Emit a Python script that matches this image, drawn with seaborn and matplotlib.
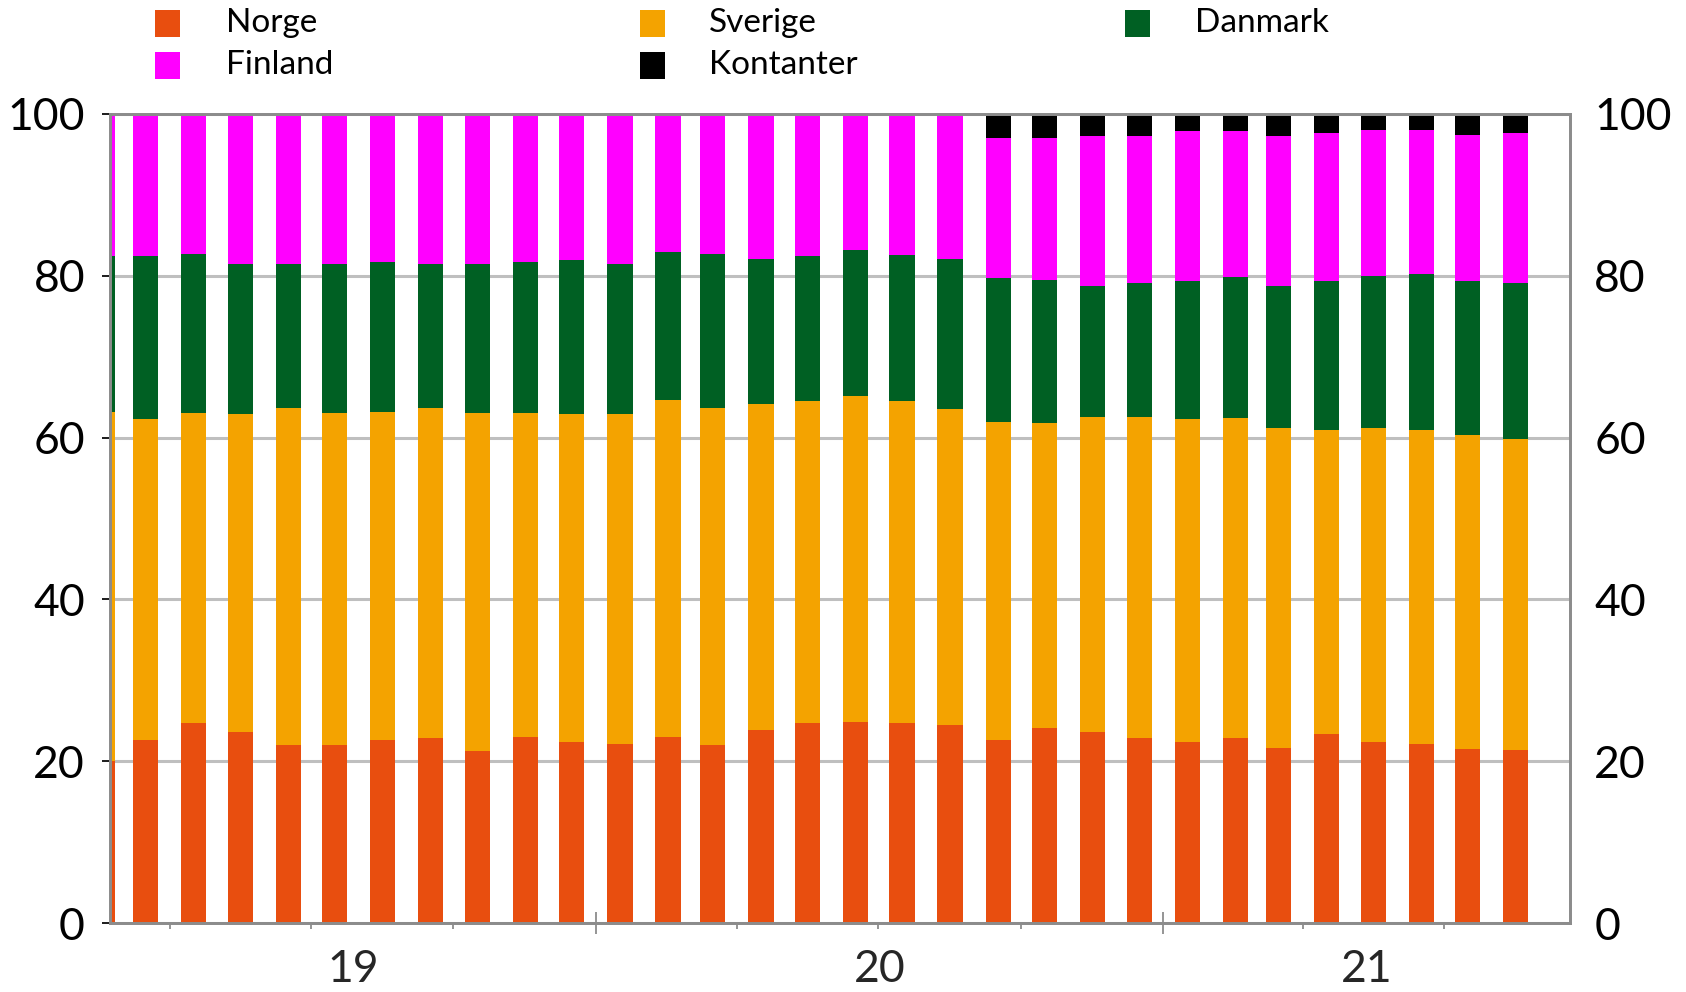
import numpy as np
import pandas as pd
import matplotlib
matplotlib.use("Agg")
import matplotlib.pyplot as plt
import matplotlib.dates as mdates
import matplotlib.transforms as mtransforms
from matplotlib.patches import Rectangle
import seaborn as sns

# Monthly shares (per cent), Feb 2019 - Aug 2021
months = pd.period_range("2019-02", "2021-08", freq="M")

norge = [20.0, 22.6, 24.7, 23.6, 22.0, 22.0, 22.6, 22.9, 21.2, 23.0, 22.4,
         22.1, 23.0, 22.0, 23.9, 24.7, 24.9, 24.7, 24.5, 22.6, 24.1, 23.6,
         22.9, 22.4, 22.9, 21.6, 23.4, 22.4, 22.1, 21.5, 21.4]
sverige = [43.2, 39.7, 38.3, 39.3, 41.7, 41.1, 40.6, 40.7, 41.8, 40.1, 40.5,
           40.8, 41.6, 41.7, 40.3, 39.8, 40.2, 39.8, 39.0, 39.3, 37.7, 39.0,
           39.6, 39.9, 39.5, 39.6, 37.5, 38.8, 38.8, 38.8, 38.4]
danmark = [19.2, 20.1, 19.7, 18.5, 17.8, 18.4, 18.5, 17.8, 18.4, 18.6, 19.1,
           18.6, 18.4, 19.0, 17.9, 17.9, 18.1, 18.1, 18.6, 17.8, 17.7, 16.2,
           16.6, 17.1, 17.5, 17.6, 18.4, 18.8, 19.3, 19.0, 19.3]
finland = [17.6, 17.6, 17.3, 18.6, 18.5, 18.5, 18.3, 18.6, 18.6, 18.3, 18.0,
           18.5, 17.0, 17.3, 17.9, 17.6, 16.8, 17.4, 17.9, 17.3, 17.5, 18.5,
           18.2, 18.5, 18.0, 18.5, 18.3, 18.0, 17.8, 18.1, 18.5]
kontanter = [0.0, 0.0, 0.0, 0.0, 0.0, 0.0, 0.0, 0.0, 0.0, 0.0, 0.0,
             0.0, 0.0, 0.0, 0.0, 0.0, 0.0, 0.0, 0.0, 3.0, 3.0, 2.7,
             2.7, 2.1, 2.1, 2.7, 2.4, 2.1, 2.0, 2.6, 2.4]

series_names = ["Norge", "Sverige", "Danmark", "Finland", "Kontanter"]
series_values = [norge, sverige, danmark, finland, kontanter]
palette = {"Norge": "#E84E0F", "Sverige": "#F4A300", "Danmark": "#006023",
           "Finland": "#FF00FF", "Kontanter": "#000000"}
year_labels = ["19", "20", "21"]
y_ticks = [0, 20, 40, 60, 80, 100]

# bar positions: middle of each month slot, as matplotlib date numbers
starts = months.to_timestamp(how="start")
x_pos = mdates.date2num((starts + pd.Timedelta(days=15.5)).to_pydatetime())

# running totals for the stacked layers (bottom series first)
cum = np.cumsum(np.array(series_values, dtype=float), axis=0)

# ---- figure
W, H = 1686, 992
sns.set_theme(style="white")
plt.rcParams["font.family"] = ["Lato", "DejaVu Sans"]

fig = plt.figure(figsize=(W / 100, H / 100), dpi=100)
ax = fig.add_axes([110 / W, (H - 923) / H, 1460 / W, 809 / H])

# stacked bars: draw each running total, top layer first, lower layers over it
for k in range(len(series_names) - 1, -1, -1):
    sns.barplot(x=x_pos, y=cum[k], native_scale=True, width=0.58,
                color=palette[series_names[k]], saturation=1,
                errorbar=None, linewidth=0, ax=ax)

x_lo = mdates.date2num(pd.Timestamp("2019-02-21 12:00"))
x_hi = mdates.date2num(pd.Timestamp("2021-09-20 12:00"))
ax.set_xlim(x_lo, x_hi)
ax.set_ylim(0, 100)
ax.set_xlabel("")
ax.set_ylabel("")

# y axis: grey horizontal grid, labels on both sides
ax.set_yticks(y_ticks)
ax.set_yticklabels([str(v) for v in y_ticks])
ax.tick_params(axis="y", which="both", left=False, right=False,
               labelleft=True, labelright=False, labelsize=32, pad=12,
               colors="black")
ax.yaxis.grid(True, color="#BFBFBF", linewidth=2.2)
ax.xaxis.grid(False)
ax.set_axisbelow(True)

ax_r = ax.twinx()
ax_r.set_ylim(0, 100)
ax_r.set_yticks(y_ticks)
ax_r.set_yticklabels([str(v) for v in y_ticks])
ax_r.tick_params(axis="y", which="both", left=False, right=False,
                 labelleft=False, labelright=True, labelsize=32, pad=11.5,
                 colors="black")
ax_r.grid(False)

# x axis: year boundaries (long ticks) and quarter ticks
year_starts = [pd.Timestamp("2020-01-01"), pd.Timestamp("2021-01-01")]
quarters = [pd.Timestamp(d) for d in
            ["2019-04-01", "2019-07-01", "2019-10-01", "2020-04-01",
             "2020-07-01", "2020-10-01", "2021-04-01", "2021-07-01"]]
ax.set_xticks(mdates.date2num(year_starts))
ax.set_xticks(mdates.date2num(quarters), minor=True)
ax.set_xticklabels([])
ax.tick_params(axis="x", which="major", bottom=True, direction="inout",
               length=16, width=1.3, color="#8C8C8C")
ax.tick_params(axis="x", which="minor", bottom=True, direction="out",
               length=4, width=1.3, color="#8C8C8C")

# year labels centred on the visible part of each year
bounds = [x_lo] + list(mdates.date2num(year_starts)) + [x_hi]
trans = mtransforms.blended_transform_factory(ax.transData, ax.transAxes)
for lab, a, b in zip(year_labels, bounds[:-1], bounds[1:]):
    ax.text((a + b) / 2, -0.058, lab, transform=trans, ha="center",
            va="center", fontsize=32)

for a_ in (ax, ax_r):
    for side in ["left", "right", "top", "bottom"]:
        a_.spines[side].set_visible(True)
        a_.spines[side].set_color("#8C8C8C")
        a_.spines[side].set_linewidth(2.0)

# legend: three columns, filled row by row
legend_rows = [["Norge", "Sverige", "Danmark"], ["Finland", "Kontanter"]]
col_marker_x = [155, 640, 1125]
col_text_x = [226, 709, 1195]
row_y = [23.5, 65.5]
for r, row in enumerate(legend_rows):
    for c, name in enumerate(row):
        yc = row_y[r]
        fig.add_artist(Rectangle(
            (col_marker_x[c] / W, 1 - (yc + 13.5) / H), 25 / W, 27 / H,
            transform=fig.transFigure, facecolor=palette[name],
            edgecolor="none"))
        fig.text(col_text_x[c] / W, 1 - yc / H, name, ha="left",
                 va="center", fontsize=24, color="black")

fig.savefig("out.png", dpi=100)
